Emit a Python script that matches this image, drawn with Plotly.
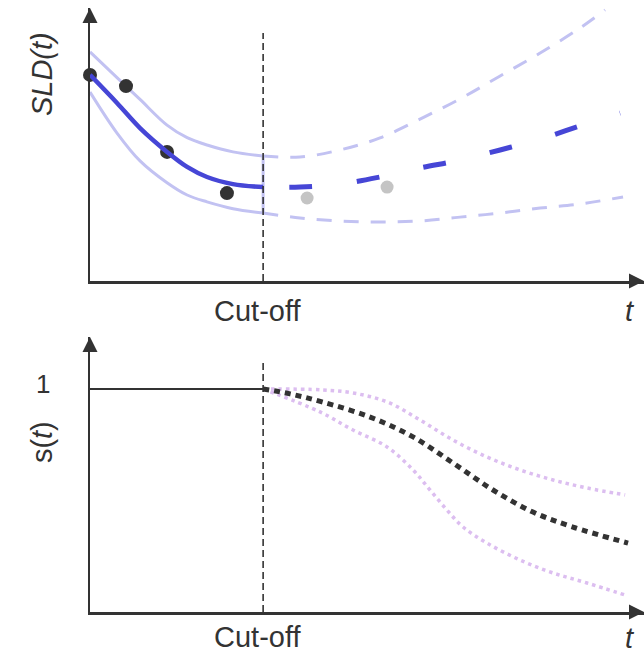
import plotly.graph_objects as go

# ---------------- data ----------------
# top panel: SLD(t)
t_obs = [0.0, 0.208, 0.445, 0.791]
sld_obs = [7.55, 7.14, 4.73, 3.22]
t_future = [1.254, 1.716]
sld_future = [3.04, 3.44]

t_fit = [0.0, 0.156, 0.289, 0.445, 0.561, 0.676, 0.826, 1.0]
sld_fit = [7.55, 6.52, 5.60, 4.73, 4.18, 3.81, 3.55, 3.44]
sld_fit_upper = [8.39, 7.45, 6.65, 5.71, 5.25, 4.98, 4.73, 4.58]
sld_fit_lower = [6.92, 5.42, 4.40, 3.60, 3.15, 2.90, 2.65, 2.49]

t_fc = [1.0, 1.213, 1.444, 1.675, 1.906, 2.137, 2.369, 2.600, 2.831, 3.062]
sld_fc = [3.44, 3.44, 3.55, 3.81, 4.14, 4.43, 4.80, 5.20, 5.68, 6.15]
t_fc_upper = [1.0, 1.213, 1.444, 1.675, 1.906, 2.137, 2.369, 2.600, 2.831, 2.975]
sld_fc_upper = [4.58, 4.54, 4.80, 5.24, 5.93, 6.67, 7.51, 8.35, 9.27, 9.93]
t_fc_lower = [1.0, 1.213, 1.444, 1.675, 1.906, 2.137, 2.369, 2.600, 2.831, 3.079]
sld_fc_lower = [2.49, 2.31, 2.20, 2.16, 2.20, 2.34, 2.49, 2.67, 2.82, 3.08]

# bottom panel: s(t)
t_step = [0.0, 1.0]
s_step = [1.0, 1.0]
t_s_mean = [1.0, 1.155, 1.340, 1.618, 1.866, 2.097, 2.328, 2.559, 2.790, 3.108]
s_mean = [1.0, 0.978, 0.942, 0.874, 0.785, 0.668, 0.547, 0.448, 0.381, 0.309]
t_s_upper = [1.0, 1.340, 1.519, 1.716, 1.906, 2.097, 2.293, 2.484, 2.675, 2.871, 3.091]
s_upper = [1.0, 0.996, 0.982, 0.942, 0.861, 0.771, 0.695, 0.637, 0.592, 0.556, 0.525]
t_s_lower = [1.0, 1.329, 1.519, 1.716, 1.866, 1.964, 2.062, 2.155, 2.293, 2.484, 2.675, 2.871, 3.091]
s_lower = [1.0, 0.897, 0.816, 0.740, 0.637, 0.547, 0.457, 0.381, 0.309, 0.233, 0.175, 0.130, 0.076]

cutoff = 1.0
t_max = 3.2
sld_max = 10.0
s_max = 1.233
cut_top_sld = 9.08
cut_top_s = 1.117

# ---------------- style ----------------
DARK = "#333333"
BLUE = "#4646d6"
BAND = "#c2c2f2"
GRAY = "#c4c4c4"
PURPLE = "#dcbef0"
FONT = "Liberation Sans, Arial, Helvetica, sans-serif"

fig = go.Figure()


def add_line(x, y, color, width, dash=None, xa="x", ya="y", shape="spline"):
    fig.add_trace(go.Scatter(
        x=x, y=y, mode="lines", xaxis=xa, yaxis=ya,
        line=dict(color=color, width=width, dash=dash, shape=shape),
        hoverinfo="skip", showlegend=False, cliponaxis=False))


# top panel bands
add_line(t_fit, sld_fit_upper, BAND, 3)
add_line(t_fit, sld_fit_lower, BAND, 3)
add_line([cutoff, cutoff], [sld_fit_upper[-1], sld_fit_lower[-1]], BAND, 3, shape="linear")
add_line(t_fc_upper, sld_fc_upper, BAND, 3, dash="15px,12px")
add_line(t_fc_lower, sld_fc_lower, BAND, 3, dash="15px,12px")

# points
fig.add_trace(go.Scatter(x=t_obs, y=sld_obs, mode="markers", xaxis="x", yaxis="y",
                         marker=dict(color=DARK, size=14), cliponaxis=False,
                         hoverinfo="skip", showlegend=False))
fig.add_trace(go.Scatter(x=t_future, y=sld_future, mode="markers", xaxis="x", yaxis="y",
                         marker=dict(color=GRAY, size=13), cliponaxis=False,
                         hoverinfo="skip", showlegend=False))

# main fit
add_line(t_fit, sld_fit, BLUE, 4.5)
add_line(t_fc, sld_fc, BLUE, 5, dash="0px,26px,23px,19px")

# bottom panel
add_line(t_step, s_step, DARK, 2, xa="x2", ya="y2", shape="linear")
add_line(t_s_upper, s_upper, PURPLE, 3.5, dash="3.5px,4px", xa="x2", ya="y2")
add_line(t_s_lower, s_lower, PURPLE, 3.5, dash="3.5px,4px", xa="x2", ya="y2")
add_line(t_s_mean, s_mean, DARK, 5, dash="6px,5px", xa="x2", ya="y2")

# arrow heads on axes
for xa, ya, ytop in (("x", "y", sld_max), ("x2", "y2", s_max)):
    fig.add_trace(go.Scatter(x=[0, t_max], y=[ytop, 0], mode="markers", xaxis=xa, yaxis=ya,
                             marker=dict(symbol=["arrow-up", "arrow-right"], size=15, color=DARK),
                             cliponaxis=False, hoverinfo="skip", showlegend=False))

# cut-off lines
fig.add_shape(type="line", xref="x", yref="y", x0=cutoff, x1=cutoff, y0=0, y1=cut_top_sld,
              line=dict(color=DARK, width=1.6, dash="7px,4px"))
fig.add_shape(type="line", xref="x2", yref="y2", x0=cutoff, x1=cutoff, y0=0, y1=cut_top_s,
              line=dict(color=DARK, width=1.6, dash="7px,4px"))

axis_common = dict(showline=True, linecolor=DARK, linewidth=2.5, showgrid=False,
                   zeroline=False, showticklabels=False, ticks="", fixedrange=True)

fig.update_layout(
    width=644, height=653,
    margin=dict(l=90, r=0, t=8, b=41),
    paper_bgcolor="white", plot_bgcolor="white",
    font=dict(family=FONT, color=DARK),
    xaxis=dict(domain=[0, 1], range=[0, t_max], anchor="y", **axis_common),
    yaxis=dict(domain=[0.548, 1], range=[0, sld_max], anchor="x", **axis_common),
    xaxis2=dict(domain=[0, 1], range=[0, t_max], anchor="y2", **axis_common),
    yaxis2=dict(domain=[0, 0.4553], range=[0, s_max], anchor="x2", **axis_common),
)

ann_font = dict(family=FONT, size=29, color=DARK)
annotations = [
    dict(text="<i>SLD(t)</i>", xref="paper", yref="paper", x=-0.0866, y=0.8907,
         textangle=-90, showarrow=False, font=ann_font, xanchor="center", yanchor="middle"),
    dict(text="s(<i>t</i>)", xref="paper", yref="paper", x=-0.0866, y=0.2813,
         textangle=-90, showarrow=False, font=ann_font, xanchor="center", yanchor="middle"),
    dict(text="1", xref="paper", yref="y2", x=-0.0848, y=1.0, yshift=5,
         showarrow=False, font=dict(family=FONT, size=26, color=DARK),
         xanchor="center", yanchor="middle"),
    dict(text="Cut-off", xref="x", yref="paper", x=cutoff, xshift=-6, y=0.4983,
         showarrow=False, font=ann_font, xanchor="center", yanchor="middle"),
    dict(text="Cut-off", xref="x2", yref="paper", x=cutoff, xshift=-6, y=-0.0414,
         showarrow=False, font=ann_font, xanchor="center", yanchor="middle"),
    dict(text="<i>t</i>", xref="paper", yref="paper", x=0.9747, y=0.4983,
         showarrow=False, font=ann_font, xanchor="center", yanchor="middle"),
    dict(text="<i>t</i>", xref="paper", yref="paper", x=0.9747, y=-0.0430,
         showarrow=False, font=ann_font, xanchor="center", yanchor="middle"),
]
fig.update_layout(annotations=annotations)

fig.write_html(
    "out.html",
    config={"displayModeBar": False, "staticPlot": True},
    post_script="document.body.style.margin='0';document.body.style.padding='0';"
                "document.body.style.overflow='hidden';",
)
